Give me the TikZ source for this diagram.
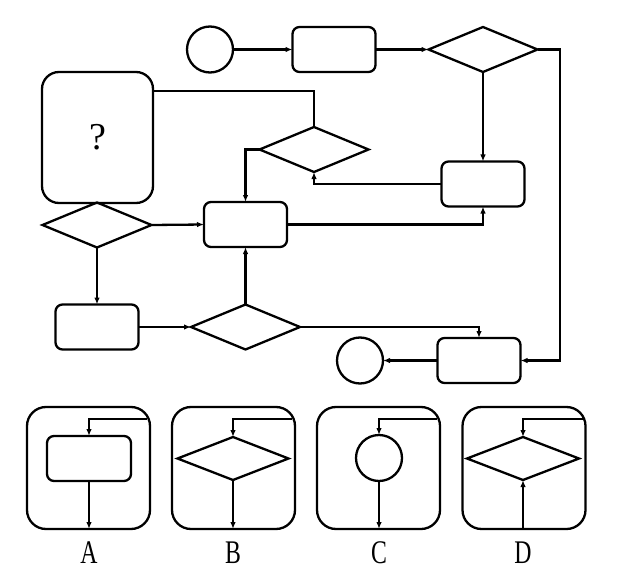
\documentclass[tikz,border=0pt]{standalone}
\usepackage{fontspec}
\setmainfont{Liberation Serif}
\usetikzlibrary{shapes.geometric,arrows.meta,calc}
\begin{document}
\begin{tikzpicture}[x=1pt,y=-1pt,line width=2.3pt,
  every node/.style={inner sep=0pt,outer sep=0pt},
  proc/.style={draw,rounded corners=7pt,minimum width=83pt,minimum height=45pt},
  dec/.style={draw,diamond,minimum width=109pt,minimum height=45pt},
  term/.style={draw,circle,minimum size=46pt},
  optbox/.style={draw,rounded corners=19pt,minimum width=123pt,minimum height=122pt},
  arr/.style={-{Latex[length=7pt,width=5.5pt]}},
  lbl/.style={font=\fontsize{33}{33}\selectfont}
]
\useasboundingbox (0,0) rectangle (631,588);
% main flowchart
\node[term] (c1) at (210,49.5) {};
\node[proc] (r1) at (334,49.5) {};
\node[dec]  (d1) at (483,49.5) {};
\node[draw,rounded corners=17pt,minimum width=111pt,minimum height=131pt] (q) at (97.5,137.5) {\fontsize{38}{38}\selectfont ?};
\node[dec]  (d2) at (314,149.5) {};
\node[proc] (r2) at (483,184) {};
\node[dec]  (d3) at (97,225) {};
\node[proc] (r3) at (245.5,224.5) {};
\node[proc] (r4) at (97,327) {};
\node[dec]  (d4) at (245.5,327) {};
\node[proc] (r5) at (479,360.5) {};
\node[term] (c2) at (360,360.5) {};
\coordinate (rx) at (560,0);
\coordinate (qy) at (153,91);

\draw[arr] (c1) -- (r1);
\draw[arr] (r1) -- (d1);
\draw[arr] (d1.east) -- (d1.east -| rx) |- (r5.east);
\draw[arr] (d1.south) -- (r2.north);
\draw[arr] (r2.west) -| (d2.south);
\draw (qy) -| (d2.north);
\draw[arr] (d2.west) -| (r3.north);
\draw[arr] (d3.east) -- (r3.west);
\draw[arr] (r3.east) -| (r2.south);
\draw[arr] (d3.south) -- (r4.north);
\draw[arr] (r4.east) -- (d4.west);
\draw[arr] (d4.north) -- (r3.south);
\draw[arr] (d4.east) -| (r5.north);
\draw[arr] (r5.west) -- (c2.east);

% options
\node[optbox] (oA) at (88.5,468) {};
\node[optbox] (oB) at (233.5,468) {};
\node[optbox] (oC) at (378.5,468) {};
\node[optbox] (oD) at (524,468) {};

\node[draw,rounded corners=7pt,minimum width=84pt,minimum height=45pt] (iA) at (89,458.5) {};
\node[draw,diamond,minimum width=111pt,minimum height=43pt] (iB) at (233,458.5) {};
\node[term] (iC) at (379,458) {};
\node[draw,diamond,minimum width=112pt,minimum height=43pt] (iD) at (523,458.5) {};

\coordinate (sA) at ($(oA.north east)+(-3,12)$);
\coordinate (sB) at ($(oB.north east)+(-3,12)$);
\coordinate (sC) at ($(oC.north east)+(-3,12)$);
\coordinate (sD) at ($(oD.north east)+(-3,12)$);

\draw[arr] (sA) -| (iA.north);
\draw[arr] (iA.south) -- (iA.south |- oA.south);
\draw[arr] (sB) -| (iB.north);
\draw[arr] (iB.south) -- (iB.south |- oB.south);
\draw[arr] (sC) -| (iC.north);
\draw[arr] (iC.south) -- (iC.south |- oC.south);
\draw[arr] (sD) -| (iD.north);
\draw[arr] (iD.south |- oD.south) -- (iD.south);

\node[lbl] (lA) at (89,553) {\scalebox{0.72}[1]{A}};
\node[lbl] (lB) at (233,553) {\scalebox{0.72}[1]{B}};
\node[lbl] (lC) at (379,553) {\scalebox{0.72}[1]{C}};
\node[lbl] (lD) at (523,553) {\scalebox{0.72}[1]{D}};
\end{tikzpicture}
\end{document}
